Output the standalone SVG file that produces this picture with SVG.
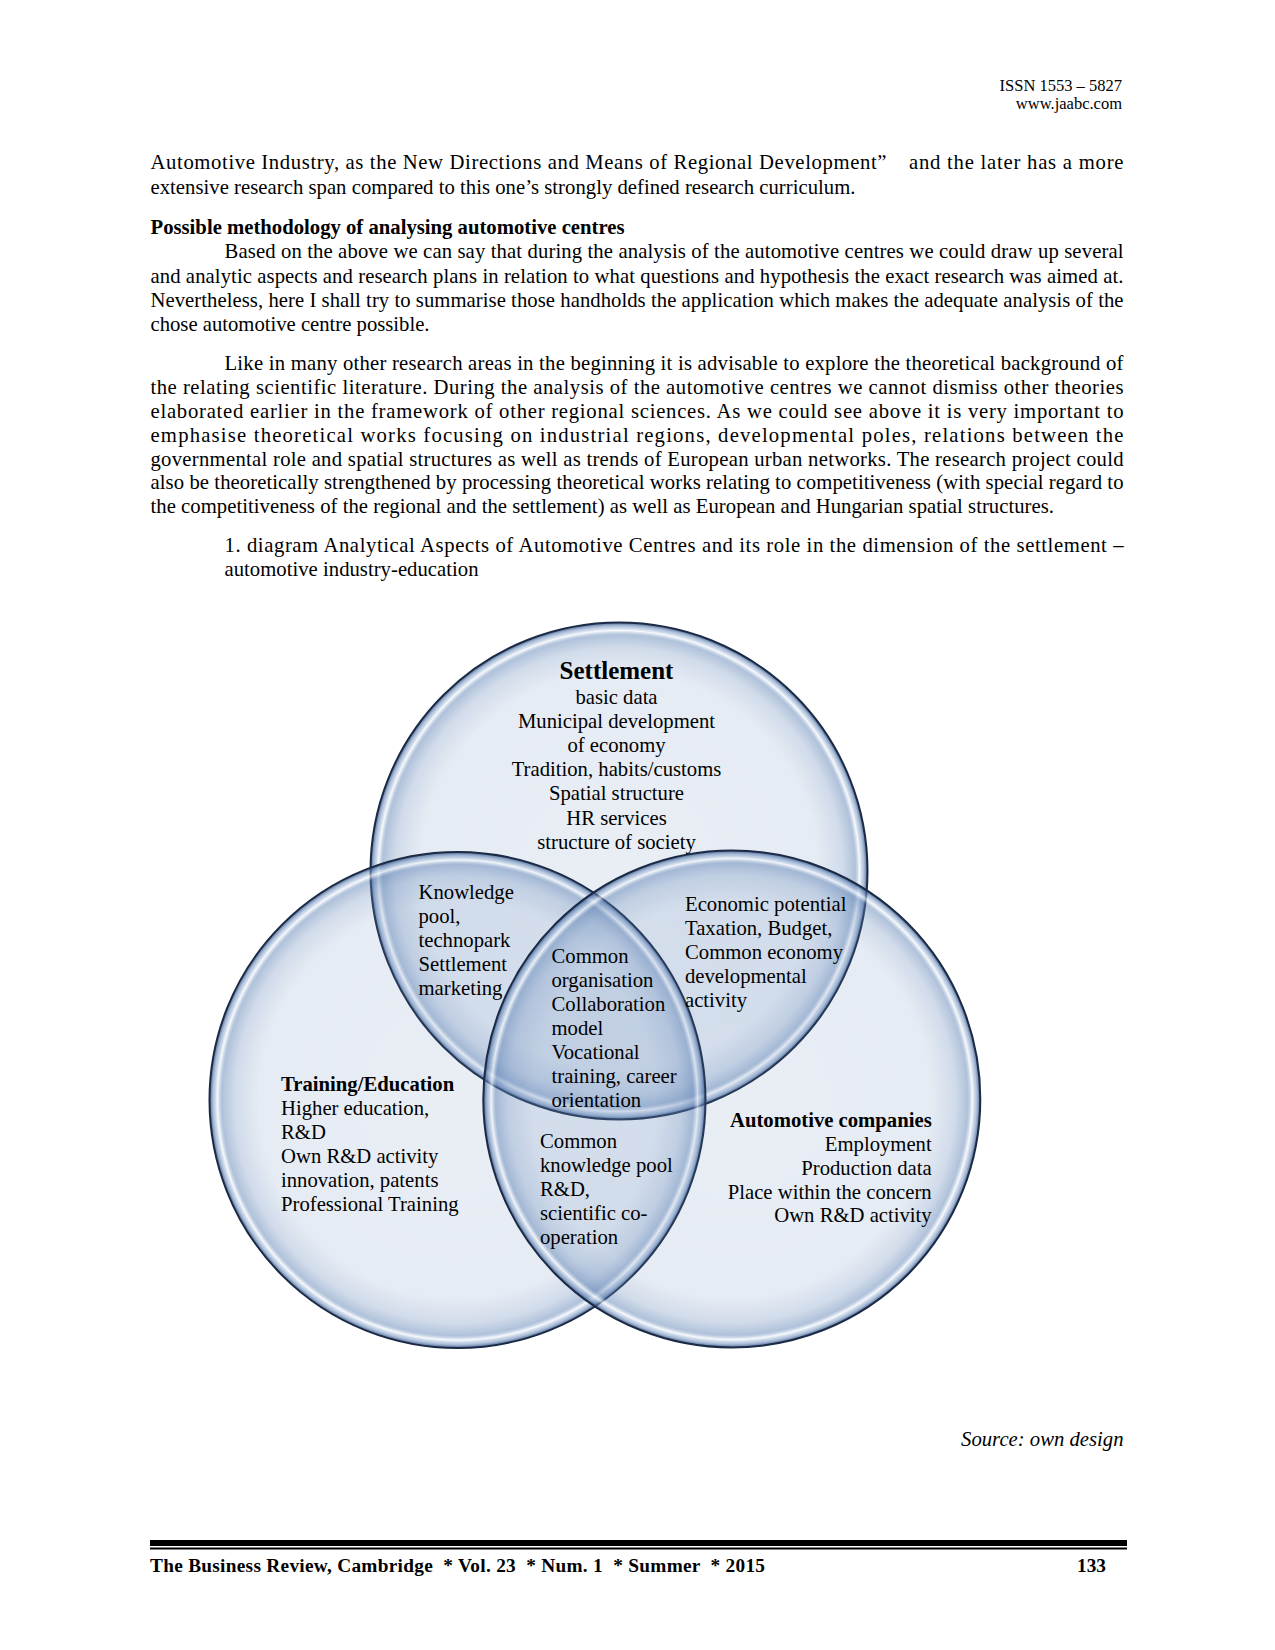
<svg xmlns="http://www.w3.org/2000/svg" width="1275" height="1650" viewBox="0 0 1275 1650">
<style>
text{font-family:"Liberation Serif","Times New Roman",serif;fill:#000;}
.hdr{font-size:16.5px;}
.body{font-size:20.7px;}
.bold{font-weight:bold;}
.dg{font-size:20.7px;}
.dgb{font-size:20.7px;font-weight:bold;}
.title{font-size:25px;font-weight:bold;}
.foot{font-size:19.3px;font-weight:bold;}
.circ{fill:url(#bubble);stroke:#1b2a45;stroke-width:2;}
</style>
<defs>
<radialGradient id="bubble" cx="50%" cy="50%" r="50%">
<stop offset="0" stop-color="#6487b9" stop-opacity="0.14"/>
<stop offset="0.8" stop-color="#6487b9" stop-opacity="0.16"/>
<stop offset="0.9" stop-color="#6487b9" stop-opacity="0.3"/>
<stop offset="0.95" stop-color="#5a7fb2" stop-opacity="0.48"/>
<stop offset="0.968" stop-color="#f4f8fc" stop-opacity="0.7"/>
<stop offset="0.985" stop-color="#6f90bf" stop-opacity="0.55"/>
<stop offset="1" stop-color="#2c4a7a" stop-opacity="0.85"/>
</radialGradient>
</defs>
<rect width="1275" height="1650" fill="#fff"/>

<g id="header">
<text class="hdr" x="1122" y="91" text-anchor="end">ISSN 1553 – 5827</text>
<text class="hdr" x="1122" y="109" text-anchor="end">www.jaabc.com</text>
</g>

<g id="body-text" class="body">
<text class="body" x="150.5" y="169" textLength="736" lengthAdjust="spacing">Automotive Industry, as the New Directions and Means of Regional Development”</text>
<text class="body" x="909" y="169" textLength="214.5" lengthAdjust="spacing">and the later has a more</text>
<text class="body" x="150.5" y="194" textLength="705" lengthAdjust="spacing">extensive research span compared to this one’s strongly defined research curriculum.</text>
<text class="body bold" x="150.5" y="233.7" textLength="474" lengthAdjust="spacing">Possible methodology of analysing automotive centres</text>
<text class="body" x="224.5" y="258.3" textLength="899" lengthAdjust="spacing">Based on the above we can say that during the analysis of the automotive centres we could draw up several</text>
<text class="body" x="150.5" y="282.5" textLength="973" lengthAdjust="spacing">and analytic aspects and research plans in relation to what questions and hypothesis the exact research was aimed at.</text>
<text class="body" x="150.5" y="306.7" textLength="973" lengthAdjust="spacing">Nevertheless, here I shall try to summarise those handholds the application which makes the adequate analysis of the</text>
<text class="body" x="150.5" y="331" textLength="279" lengthAdjust="spacing">chose automotive centre possible.</text>
<text class="body" x="224.5" y="369.8" textLength="899" lengthAdjust="spacing">Like in many other research areas in the beginning it is advisable to explore the theoretical background of</text>
<text class="body" x="150.5" y="393.8" textLength="973" lengthAdjust="spacing">the relating scientific literature. During the analysis of the automotive centres we cannot dismiss other theories</text>
<text class="body" x="150.5" y="417.7" textLength="973" lengthAdjust="spacing">elaborated earlier in the framework of other regional sciences. As we could see above it is very important to</text>
<text class="body" x="150.5" y="441.6" textLength="973" lengthAdjust="spacing">emphasise theoretical works focusing on industrial regions, developmental poles, relations between the</text>
<text class="body" x="150.5" y="465.5" textLength="973" lengthAdjust="spacing">governmental role and spatial structures as well as trends of European urban networks.  The research project could</text>
<text class="body" x="150.5" y="489.3" textLength="973" lengthAdjust="spacing">also be theoretically strengthened by processing theoretical works relating to competitiveness (with special regard to</text>
<text class="body" x="150.5" y="513.2" textLength="903.5" lengthAdjust="spacing">the competitiveness of the regional and the settlement) as well as European and Hungarian spatial structures.</text>
<text class="body" x="224.5" y="552.2" textLength="899" lengthAdjust="spacing">1. diagram Analytical Aspects of Automotive Centres and its role in the dimension of the settlement –</text>
<text class="body" x="224.5" y="576.2" textLength="254" lengthAdjust="spacing">automotive industry-education</text>
</g>

<g id="node-settlement-circle"><circle class="circ" cx="619" cy="871" r="248.5"/></g>
<g id="node-training-circle"><circle class="circ" cx="457.5" cy="1100" r="248"/></g>
<g id="node-automotive-circle"><circle class="circ" cx="731.8" cy="1099" r="248.5"/></g>
<g id="connectors"/>

<g id="node-settlement" text-anchor="middle">
<text class="title" x="616.5" y="679">Settlement</text>
<text class="dg" x="616.5" y="703.5">basic data</text>
<text class="dg" x="616.5" y="727.7">Municipal development</text>
<text class="dg" x="616.5" y="751.9">of economy</text>
<text class="dg" x="616.5" y="776.1">Tradition, habits/customs</text>
<text class="dg" x="616.5" y="800.3">Spatial structure</text>
<text class="dg" x="616.5" y="824.5">HR services</text>
<text class="dg" x="616.5" y="848.7">structure of society</text>
</g>

<g id="node-settlement-training">
<text class="dg" x="418.5" y="898.5">Knowledge</text>
<text class="dg" x="418.5" y="922.5">pool,</text>
<text class="dg" x="418.5" y="946.5">technopark</text>
<text class="dg" x="418.5" y="970.5">Settlement</text>
<text class="dg" x="418.5" y="994.5">marketing</text>
</g>

<g id="node-settlement-automotive">
<text class="dg" x="685" y="911">Economic potential</text>
<text class="dg" x="685" y="935">Taxation, Budget,</text>
<text class="dg" x="685" y="959">Common economy</text>
<text class="dg" x="685" y="983">developmental</text>
<text class="dg" x="685" y="1007">activity</text>
</g>

<g id="node-common">
<text class="dg" x="551.5" y="962.8">Common</text>
<text class="dg" x="551.5" y="986.8">organisation</text>
<text class="dg" x="551.5" y="1010.8">Collaboration</text>
<text class="dg" x="551.5" y="1034.8">model</text>
<text class="dg" x="551.5" y="1058.8">Vocational</text>
<text class="dg" x="551.5" y="1082.8">training, career</text>
<text class="dg" x="551.5" y="1106.8">orientation</text>
</g>

<g id="node-training">
<text class="dgb" x="281" y="1091.2">Training/Education</text>
<text class="dg" x="281" y="1115.2">Higher education,</text>
<text class="dg" x="281" y="1139.2">R&amp;D</text>
<text class="dg" x="281" y="1163.2">Own R&amp;D activity</text>
<text class="dg" x="281" y="1187.2">innovation, patents</text>
<text class="dg" x="281" y="1211.2">Professional Training</text>
</g>

<g id="node-training-automotive">
<text class="dg" x="540" y="1147.8">Common</text>
<text class="dg" x="540" y="1171.8">knowledge pool</text>
<text class="dg" x="540" y="1195.8">R&amp;D,</text>
<text class="dg" x="540" y="1219.8">scientific co-</text>
<text class="dg" x="540" y="1243.8">operation</text>
</g>

<g id="node-automotive" text-anchor="end">
<text class="dgb" x="931.7" y="1127.2">Automotive companies</text>
<text class="dg" x="931.7" y="1151">Employment</text>
<text class="dg" x="931.7" y="1174.7">Production data</text>
<text class="dg" x="931.7" y="1198.5">Place within the concern</text>
<text class="dg" x="931.7" y="1222.2">Own R&amp;D activity</text>
</g>

<g id="source">
<text class="body" x="1123.5" y="1446" text-anchor="end" font-style="italic">Source: own design</text>
</g>

<g id="footer">
<rect x="150" y="1540" width="977" height="6" fill="#000"/>
<rect x="150" y="1547.5" width="977" height="2" fill="#000"/>
<text class="foot" x="150" y="1571.5" textLength="615" lengthAdjust="spacing" xml:space="preserve">The Business Review, Cambridge  * Vol. 23  * Num. 1  * Summer  * 2015</text>
<text class="foot" x="1106" y="1571.5" text-anchor="end">133</text>
</g>
</svg>
